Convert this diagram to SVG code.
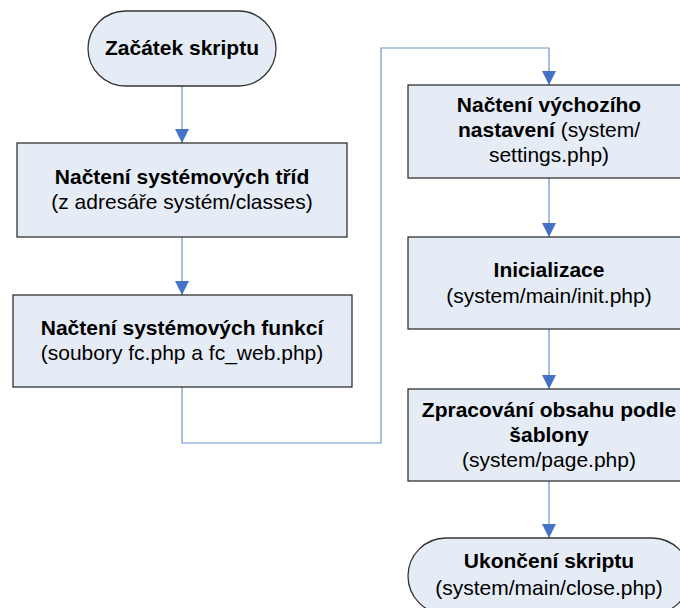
<svg xmlns="http://www.w3.org/2000/svg" width="680" height="608" viewBox="0 0 680 608">
<defs>
<style>
.box{fill:#e6ecf6;stroke:#333;stroke-width:1.3}
.t{font-family:"Liberation Sans",Arial,sans-serif;font-size:21px;fill:#000;text-anchor:middle}
.b{font-weight:bold}
.c{fill:none;stroke:#6a93d0;stroke-width:1.2}
</style>
<marker id="ah" markerUnits="userSpaceOnUse" markerWidth="14" markerHeight="14" refX="14" refY="7" orient="auto" viewBox="0 0 14 14">
<path d="M0,0 L14,7 L0,14 z" fill="#4472c4"/>
</marker>
</defs>
<rect width="680" height="608" fill="#fff"/>
<g id="connectors">
<path class="c" d="M182,86 V143" marker-end="url(#ah)"/>
<path class="c" d="M182,237 V295" marker-end="url(#ah)"/>
<path class="c" d="M182,387 V443 H381 V48 H549 V85" marker-end="url(#ah)"/>
<path class="c" d="M549,178 V237" marker-end="url(#ah)"/>
<path class="c" d="M549,329 V389" marker-end="url(#ah)"/>
<path class="c" d="M549,481 V538" marker-end="url(#ah)"/>
</g>
<g id="start">
<rect class="box" x="88" y="11" width="188" height="75" rx="37.5"/>
<text class="t b" x="182" y="55">Začátek skriptu</text>
</g>
<g id="classes">
<rect class="box" x="17" y="143" width="330" height="94"/>
<text class="t b" x="182" y="184">Načtení systémových tříd</text>
<text class="t" x="182" y="209">(z adresáře systém/classes)</text>
</g>
<g id="functions">
<rect class="box" x="13" y="295" width="339" height="92"/>
<text class="t b" x="182" y="335">Načtení systémových funkcí</text>
<text class="t" x="182" y="360">(soubory fc.php a fc_web.php)</text>
</g>
<g id="settings">
<rect class="box" x="408" y="85" width="282" height="93"/>
<text class="t b" x="549" y="112">Načtení výchozího</text>
<text class="t" x="549" y="137"><tspan class="b">nastavení</tspan> (system/</text>
<text class="t" x="549" y="162">settings.php)</text>
</g>
<g id="init">
<rect class="box" x="408" y="237" width="282" height="92"/>
<text class="t b" x="549" y="277">Inicializace</text>
<text class="t" x="549" y="303">(system/main/init.php)</text>
</g>
<g id="page">
<rect class="box" x="408" y="389" width="282" height="92"/>
<text class="t b" x="549" y="417">Zpracování obsahu podle</text>
<text class="t b" x="549" y="442">šablony</text>
<text class="t" x="549" y="467">(system/page.php)</text>
</g>
<g id="end">
<rect class="box" x="408" y="538" width="282" height="76" rx="38"/>
<text class="t b" x="549" y="568">Ukončení skriptu</text>
<text class="t" x="549" y="595">(system/main/close.php)</text>
</g>
</svg>
